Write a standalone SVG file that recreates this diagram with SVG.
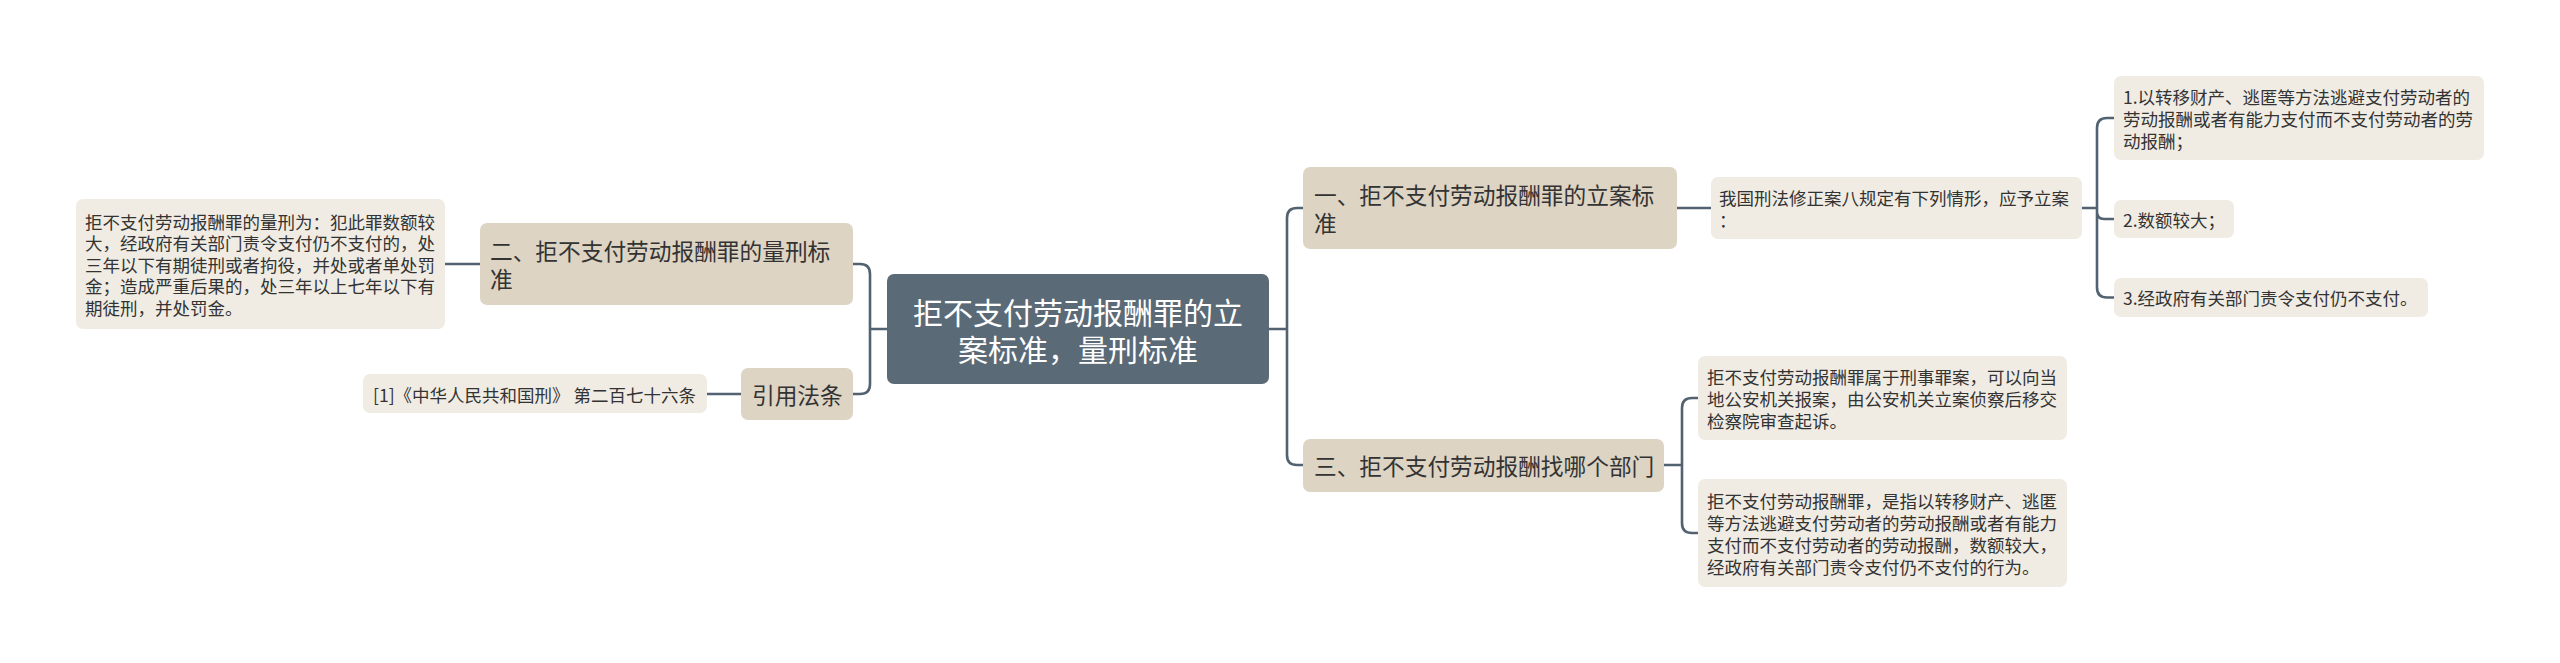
<svg xmlns="http://www.w3.org/2000/svg" width="2560" height="663" viewBox="0 0 2560 663">
<style>
text{font-family:"Noto Sans CJK SC","Noto Sans",sans-serif;dominant-baseline:central}
.root rect{fill:#5b6a77}
.root text{fill:#ffffff;font-size:30px;text-anchor:middle}
.main rect{fill:#ddd4c4}
.main text{fill:#333333;font-size:22.7px}
.leaf rect{fill:#f0ece4}
.leaf text{fill:#333333;font-size:17.5px}
.conn path{fill:none;stroke:#526270;stroke-width:2.6}
</style>
<rect width="2560" height="663" fill="#ffffff"/>
<g class="conn">
<path d="M1269,329 H1287 M1287,329 V218 Q1287,208 1297,208 H1303 M1287,329 V455 Q1287,465 1297,465 H1303"/>
<path d="M887,329 H870 M870,329 V274 Q870,264 860,264 H853 M870,329 V384 Q870,394 860,394 H853"/>
<path d="M480,264 H445"/>
<path d="M741,394 H707"/>
<path d="M1677,208 H1711"/>
<path d="M2082,208 H2097 M2097,208 V128 Q2097,118 2107,118 H2114 M2097,208 V212 Q2097,219 2104,219 H2114 M2097,208 V287.5 Q2097,297.5 2107,297.5 H2114"/>
<path d="M1664,465 H1682 M1682,465 V408 Q1682,398 1692,398 H1698 M1682,465 V523 Q1682,533 1692,533 H1698"/>
</g>
<g id="root" class="root">
<rect x="887" y="274" width="382" height="110" rx="7"/>
<text x="1078" y="311">拒不支付劳动报酬罪的立</text>
<text x="1078" y="348">案标准，量刑标准</text>
</g>
<g id="n1" class="main">
<rect x="1303" y="167" width="374" height="82" rx="7"/>
<text x="1314" y="194">一、拒不支付劳动报酬罪的立案标</text>
<text x="1314" y="222">准</text>
</g>
<g id="n2" class="main">
<rect x="480" y="223" width="373" height="82" rx="7"/>
<text x="490" y="250">二、拒不支付劳动报酬罪的量刑标</text>
<text x="490" y="278">准</text>
</g>
<g id="n3" class="main">
<rect x="1303" y="439" width="361" height="53" rx="7"/>
<text x="1314" y="465">三、拒不支付劳动报酬找哪个部门</text>
</g>
<g id="n4" class="main">
<rect x="741" y="368" width="112" height="52" rx="7"/>
<text x="752" y="394">引用法条</text>
</g>
<g id="l1" class="leaf">
<rect x="1711" y="177" width="371" height="62" rx="7"/>
<text x="1719" y="197">我国刑法修正案八规定有下列情形，应予立案</text>
<text x="1719" y="219">：</text>
</g>
<g id="l11" class="leaf">
<rect x="2114" y="76" width="370" height="84" rx="7"/>
<text x="2123" y="96">1.以转移财产、逃匿等方法逃避支付劳动者的</text>
<text x="2123" y="118">劳动报酬或者有能力支付而不支付劳动者的劳</text>
<text x="2123" y="140">动报酬；</text>
</g>
<g id="l12" class="leaf">
<rect x="2114" y="200" width="120" height="38" rx="7"/>
<text x="2123" y="219">2.数额较大；</text>
</g>
<g id="l13" class="leaf">
<rect x="2114" y="278" width="314" height="39" rx="7"/>
<text x="2123" y="297.5">3.经政府有关部门责令支付仍不支付。</text>
</g>
<g id="l2" class="leaf">
<rect x="76" y="199" width="369" height="130" rx="7"/>
<text x="85" y="221">拒不支付劳动报酬罪的量刑为：犯此罪数额较</text>
<text x="85" y="242.5">大，经政府有关部门责令支付仍不支付的，处</text>
<text x="85" y="264">三年以下有期徒刑或者拘役，并处或者单处罚</text>
<text x="85" y="285.5">金；造成严重后果的，处三年以上七年以下有</text>
<text x="85" y="307">期徒刑，并处罚金。</text>
</g>
<g id="l3" class="leaf">
<rect x="1698" y="356" width="369" height="84" rx="7"/>
<text x="1707" y="376">拒不支付劳动报酬罪属于刑事罪案，可以向当</text>
<text x="1707" y="398">地公安机关报案，由公安机关立案侦察后移交</text>
<text x="1707" y="420">检察院审查起诉。</text>
</g>
<g id="l4" class="leaf">
<rect x="1698" y="479" width="369" height="108" rx="7"/>
<text x="1707" y="500">拒不支付劳动报酬罪，是指以转移财产、逃匿</text>
<text x="1707" y="522">等方法逃避支付劳动者的劳动报酬或者有能力</text>
<text x="1707" y="544">支付而不支付劳动者的劳动报酬，数额较大，</text>
<text x="1707" y="566">经政府有关部门责令支付仍不支付的行为。</text>
</g>
<g id="l5" class="leaf">
<rect x="363" y="374" width="344" height="39" rx="7"/>
<text x="373" y="394">[1]《中华人民共和国刑》 第二百七十六条</text>
</g>
</svg>
